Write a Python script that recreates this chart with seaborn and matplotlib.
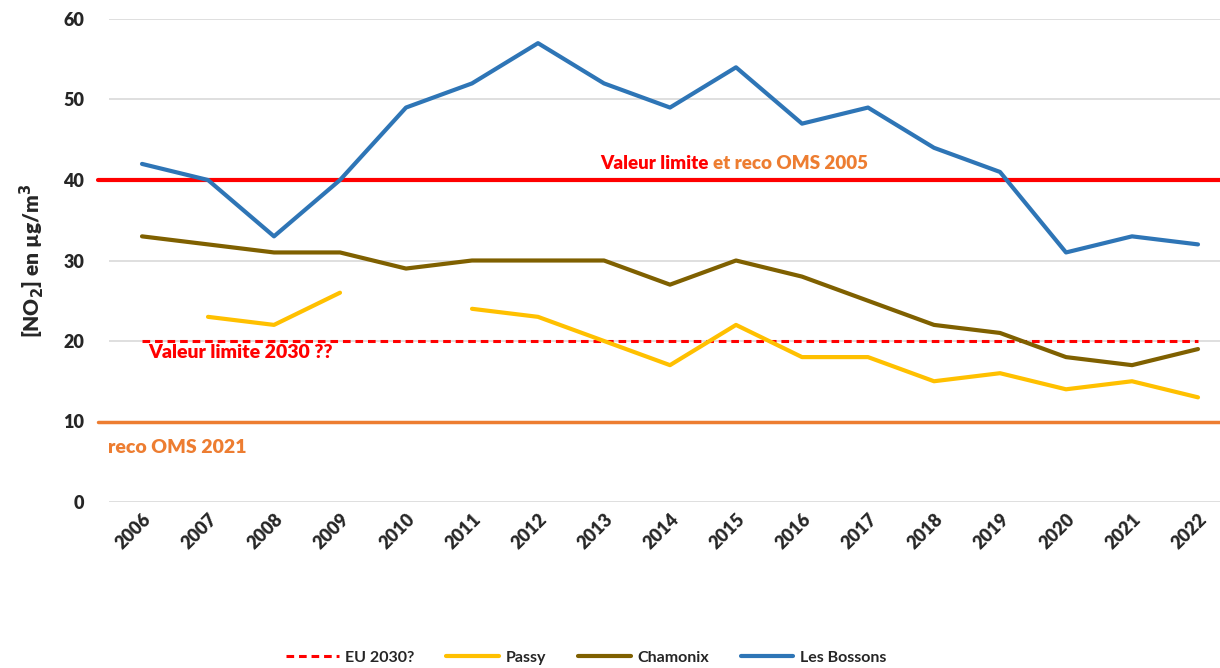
import numpy as np
import pandas as pd
import matplotlib
matplotlib.use("Agg")
import matplotlib.pyplot as plt
import seaborn as sns

# données NO2 (µg/m3)
years = [str(y) for y in range(2006, 2023)]
les_bossons = [42, 40, 33, 40, 49, 52, 57, 52, 49, 54, 47, 49, 44, 41, 31, 33, 32]
chamonix = [33, 32, 31, 31, 29, 30, 30, 30, 27, 30, 28, 25, 22, 21, 18, 17, 19]
passy = [np.nan, 23, 22, 26, np.nan, 24, 23, 20, 17, 22, 18, 18, 15, 16, 14, 15, 13]
eu_2030 = [20] * len(years)
limite_2005 = 40
reco_2021 = 10

sns.set_theme(style="white")
plt.rcParams['font.family'] = ['Lato', 'DejaVu Sans']
plt.rcParams['font.weight'] = 'bold'

fig = plt.figure(figsize=(12.2, 6.68), dpi=100)
ax = fig.add_axes([109 / 1220, 166 / 668, 1122 / 1220, 483 / 668])

x_idx = np.arange(len(years))

# Passy en segments (trou en 2010)
df_passy = pd.DataFrame({"x": x_idx, "v": passy})
df_passy["seg"] = np.isnan(df_passy["v"]).cumsum()
df_passy = df_passy.dropna()

sns.lineplot(x=x_idx, y=eu_2030, ax=ax, color="#FF0000", lw=2.2, linestyle=(0, (2.5, 1.6)), label="EU 2030?")
sns.lineplot(data=df_passy, x="x", y="v", units="seg", estimator=None, ax=ax, color="#FFC000", lw=3, label="Passy")
sns.lineplot(x=x_idx, y=chamonix, ax=ax, color="#7F6000", lw=3, label="Chamonix")
sns.lineplot(x=x_idx, y=les_bossons, ax=ax, color="#2E75B6", lw=3, label="Les Bossons")

ax.axhline(limite_2005, color="#FF0000", lw=3, xmin=-0.01, clip_on=False, zorder=1)
ax.axhline(reco_2021, color="#ED7D31", lw=2.5, xmin=-0.01, clip_on=False, zorder=1)

t1 = ax.text(6.94, 41.0, "Valeur limite", color="#FF0000", fontsize=13.5, fontweight="heavy", va="bottom")
ax.annotate("et reco OMS 2005", xy=(1, 0), xycoords=t1, xytext=(3, 0), textcoords="offset points",
            color="#ED7D31", fontsize=13.5, fontweight="heavy", va="bottom")
ax.text(0.09, 18.6, "Valeur limite 2030 ??", color="#FF0000", fontsize=14, fontweight="heavy", va="center")
ax.text(-0.52, 6.8, "reco OMS 2021", color="#ED7D31", fontsize=14, fontweight="heavy", va="center")

ax.set_xlim(-0.5, len(years) - 0.5)
ax.set_ylim(0, 60)
ax.set_yticks(np.arange(0, 61, 10))
ax.set_xticks(x_idx)
ax.set_xticklabels(years, rotation=45, ha="right", rotation_mode="anchor", fontsize=13, fontweight="heavy")
ax.tick_params(axis="y", labelsize=13, pad=18, length=0)
ax.tick_params(axis="x", length=0, pad=6)
for lbl in ax.get_yticklabels():
    lbl.set_fontweight("heavy")
ax.yaxis.grid(True, color="#D9D9D9", lw=1.2)
ax.set_axisbelow(True)
for s in ax.spines.values():
    s.set_visible(False)

ax.set_xlabel("")
ax.set_ylabel("[NO$_2$] en µg/m$^3$", fontsize=15, fontweight="heavy", labelpad=12)

# légende sans doublon
handles, labels = ax.get_legend_handles_labels()
seen = {}
for h, l in zip(handles, labels):
    if l not in seen:
        seen[l] = h
ax.legend(list(seen.values()), list(seen.keys()), loc="center", bbox_to_anchor=(477 / 1122, -0.322),
          ncol=4, frameon=False, fontsize=11.5, handlelength=3.3, columnspacing=2.0, handletextpad=0.4)

fig.savefig("out.png", dpi=100)
